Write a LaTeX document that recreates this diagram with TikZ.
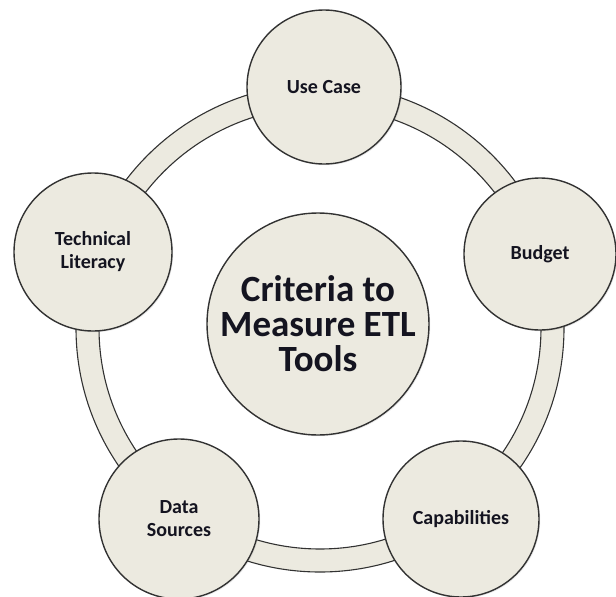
\documentclass[tikz,border=0pt]{standalone}
\usepackage{fontspec}
\setmainfont{Carlito}
\usetikzlibrary{shadows}
\definecolor{beige}{RGB}{236,234,224}
\definecolor{edge}{RGB}{50,50,50}
\definecolor{ink}{RGB}{20,20,32}
\tikzset{
  ringline/.style={draw=edge, line width=1.1pt, fill=beige, even odd rule},
  crit/.style={circle, draw=edge, line width=1.4pt, fill=beige, text=ink,
    font=\fontsize{20}{23}\selectfont\bfseries, align=center, inner sep=0pt,
    drop shadow={shadow xshift=1.2pt, shadow yshift=-1.2pt, opacity=0.18, fill=gray}},
  hub/.style={crit, font=\fontsize{37}{35}\selectfont\bfseries}
}
\begin{document}
\begin{tikzpicture}[x=1pt,y=-1pt]
\useasboundingbox (0,0) rectangle (616,597);
\coordinate (c) at (320,328);
\path[ringline] (c) circle (244) (c) circle (221);
\node[hub, minimum size=222pt] (m) at (318,324) {Criteria to\\Measure ETL\\Tools};
\node[crit, minimum size=154pt] (u) at (324,87) {Use Case};
\node[crit, minimum size=152pt] (b) at (540,254) {Budget};
\node[crit, minimum size=156pt] (k) at (461,519) {Capabilities};
\node[crit, minimum size=160pt] (d) at (179,519) {Data\\Sources};
\node[crit, minimum size=158pt] (t) at (93,252) {Technical\\Literacy};
\end{tikzpicture}
\end{document}
